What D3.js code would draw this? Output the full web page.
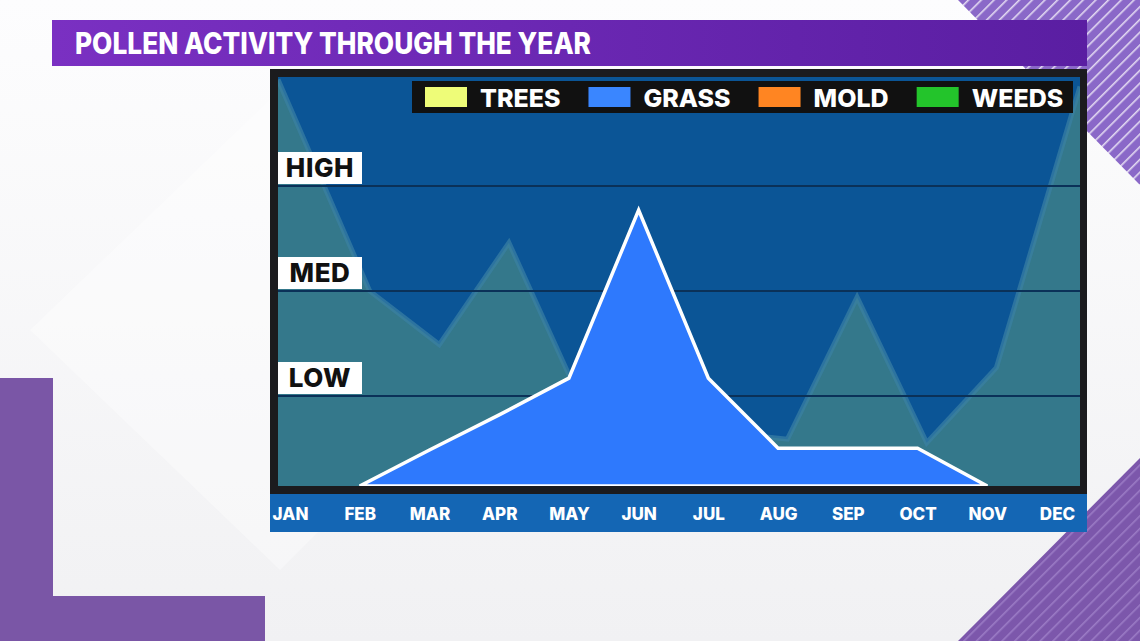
<!DOCTYPE html>
<html>
<head>
<meta charset="utf-8">
<script src="https://cdn.jsdelivr.net/npm/d3@7"></script>
<style>
  html, body { margin: 0; padding: 0; background: #f5f5f7; }
  svg { display: block; }
  text { font-family: Inter, Lato, "Open Sans", sans-serif; font-weight: 800; }
</style>
</head>
<body>
<svg id="chart" width="1140" height="641"></svg>
<script>
// ---------------- data ----------------
const titleText = "POLLEN ACTIVITY THROUGH THE YEAR";
const months = ["JAN","FEB","MAR","APR","MAY","JUN","JUL","AUG","SEP","OCT","NOV","DEC"];
const levelLabels = ["LOW","MED","HIGH"];
const levelValues = [1, 2, 3];
const legendLabels = ["TREES","GRASS","MOLD","WEEDS"];
const legendColors = ["#eefc78","#3a86ff","#ff8522","#23c42b"];
// grass pollen level by month (0 = none, 1 = low, 2 = med, 3 = high)
const grassLevels = [null, 0, 0.4, 0.79, 1.17, 2.77, 1.17, 0.42, 0.42, 0.42, 0, null];
// combined trees / mold / weeds background level by month
const otherLevels = [3.53, 2.0, 1.49, 2.46, 1.0, 0.8, 0.6, 0.52, 1.94, 0.48, 1.27, 3.5];

// ---------------- layout ----------------
const W = 1140, H = 641;
const frame = {x0: 270, y0: 69, x1: 1087, y1: 494};
const plot = {x0: 278, y0: 77, x1: 1080, y1: 486};
const band = {y0: 494, y1: 532};

const svg = d3.select("#chart");
const defs = svg.append("defs");

// background
const bg = defs.append("linearGradient").attr("id","bg").attr("x1",0).attr("y1",0).attr("x2",0).attr("y2",1);
bg.append("stop").attr("offset","0%").attr("stop-color","#fdfdfe");
bg.append("stop").attr("offset","100%").attr("stop-color","#f1f1f3");
svg.append("rect").attr("width",W).attr("height",H).attr("fill","url(#bg)");

// faint diamond decoration
svg.append("path").attr("d","M30,330 L280,90 L520,330 L280,570 Z").attr("fill","#ffffff").attr("opacity",0.35);

// stripe patterns
function stripePattern(id, base, line, op) {
  const p = defs.append("pattern").attr("id",id).attr("patternUnits","userSpaceOnUse")
    .attr("width",9).attr("height",9).attr("patternTransform","rotate(45)");
  p.append("rect").attr("width",9).attr("height",9).attr("fill",base);
  p.append("rect").attr("x",0).attr("width",1.6).attr("height",9).attr("fill",line).attr("opacity",op);
}
stripePattern("stripeTop","#8a68c8","#ffffff",0.75);
stripePattern("stripeBot","#7c57ab","#a98bd0",0.7);

svg.append("path").attr("d",`M958,0 L${W},0 L${W},185 Z`).attr("fill","url(#stripeTop)");
svg.append("path").attr("d",`M958,${H} L${W},458 L${W},${H} Z`).attr("fill","url(#stripeBot)");

// bottom-left L shape
svg.append("path").attr("d",`M0,378 L53,378 L53,596 L265,596 L265,${H} L0,${H} Z`).attr("fill","#7a56a6");

// title bar
const tg = defs.append("linearGradient").attr("id","titleGrad");
tg.append("stop").attr("offset","0%").attr("stop-color","#7a30c2");
tg.append("stop").attr("offset","100%").attr("stop-color","#5a1ea2");
svg.append("rect").attr("x",52).attr("y",20).attr("width",1087-52).attr("height",46).attr("fill","url(#titleGrad)");
svg.append("text").attr("x",75).attr("y",54).attr("fill","#ffffff").attr("font-size",30)
  .attr("textLength",516).attr("lengthAdjust","spacingAndGlyphs").text(titleText);

// chart frame
svg.append("rect").attr("x",frame.x0).attr("y",frame.y0).attr("width",frame.x1-frame.x0).attr("height",frame.y1-frame.y0).attr("fill","#1b1b1e");
svg.append("rect").attr("x",plot.x0).attr("y",plot.y0).attr("width",plot.x1-plot.x0).attr("height",plot.y1-plot.y0).attr("fill","#0b5596");

// axis band
svg.append("rect").attr("x",frame.x0).attr("y",band.y0).attr("width",frame.x1-frame.x0).attr("height",band.y1-band.y0).attr("fill","#1466b4");

// scales
const xMonth = d3.scalePoint().domain(months).range([290, 1057]);
const xOther = d3.scalePoint().domain(months).range([300, 1066]);
const y = d3.scaleLinear().domain([0,1,2,3,4]).range([plot.y1, 396, 291, 186, 81]);

defs.append("clipPath").attr("id","plotClip").append("rect")
  .attr("x",plot.x0).attr("y",plot.y0).attr("width",plot.x1-plot.x0).attr("height",plot.y1-plot.y0);
const g = svg.append("g").attr("clip-path","url(#plotClip)");

// background pollen area, extended linearly to the plot edges
const otherPts = months.map((m,i)=>[xOther(m), y(otherLevels[i])]);
function extendTo(p0, p1, xEdge) {
  const s = (p1[1]-p0[1])/(p1[0]-p0[0]);
  return [xEdge, p0[1] + s*(xEdge-p0[0])];
}
const n = otherPts.length;
const otherFull = [extendTo(otherPts[0], otherPts[1], plot.x0), ...otherPts, extendTo(otherPts[n-1], otherPts[n-2], plot.x1)];
const otherArea = d3.area().x(d=>d[0]).y0(plot.y1+10).y1(d=>d[1]);
g.append("path").datum(otherFull).attr("d",otherArea).attr("fill","#34788b");
g.append("path").datum(otherFull).attr("d",d3.line())
  .attr("fill","none").attr("stroke","#3a80a4").attr("stroke-width",5).attr("opacity",0.7);

// grid lines
g.selectAll("line.grid").data(levelValues).join("line").attr("class","grid")
  .attr("x1",plot.x0).attr("x2",plot.x1).attr("y1",d=>y(d)).attr("y2",d=>y(d))
  .attr("stroke","#0b3158").attr("stroke-width",2);

// grass area
const grassData = months.map((m,i)=>({m, v: grassLevels[i]})).filter(d=>d.v!==null);
const grassArea = d3.area().x(d=>xMonth(d.m)).y0(y(0)).y1(d=>y(d.v));
g.append("path").datum(grassData).attr("d",grassArea).attr("fill","#2e79fd")
  .attr("stroke","#ffffff").attr("stroke-width",3.5).attr("stroke-linejoin","miter");

// level labels
const lv = svg.append("g");
lv.selectAll("rect").data(levelValues).join("rect")
  .attr("x",plot.x0).attr("y",d=>y(d)-34).attr("width",84).attr("height",32).attr("fill","#ffffff");
lv.selectAll("text").data(levelValues).join("text")
  .attr("x",plot.x0+42).attr("y",d=>y(d)-9).attr("text-anchor","middle")
  .attr("font-size",26).attr("letter-spacing",0.6).attr("fill","#111111").text((d,i)=>levelLabels[i]);

// legend
const leg = svg.append("g");
leg.append("rect").attr("x",412).attr("y",81).attr("width",1073-412).attr("height",32).attr("fill","#111111");
let lx = 425;
legendLabels.forEach((lab,i)=>{
  leg.append("rect").attr("x",lx).attr("y",87).attr("width",42).attr("height",20).attr("fill",legendColors[i]);
  const t = leg.append("text").attr("x",lx+55).attr("y",107).attr("font-size",25).attr("fill","#ffffff").text(lab);
  const w = t.node().getComputedTextLength();
  lx = lx + 55 + w + 28;
});

// month axis
const ax = svg.append("g").attr("transform",`translate(0,${band.y0})`)
  .call(d3.axisBottom(xMonth).tickSize(0).tickPadding(14));
ax.select(".domain").remove();
ax.selectAll("text").attr("fill","#ffffff").attr("font-size",17)
  .style("font-family","Inter, Lato, 'Open Sans', sans-serif").style("font-weight",800);
</script>
</body>
</html>
